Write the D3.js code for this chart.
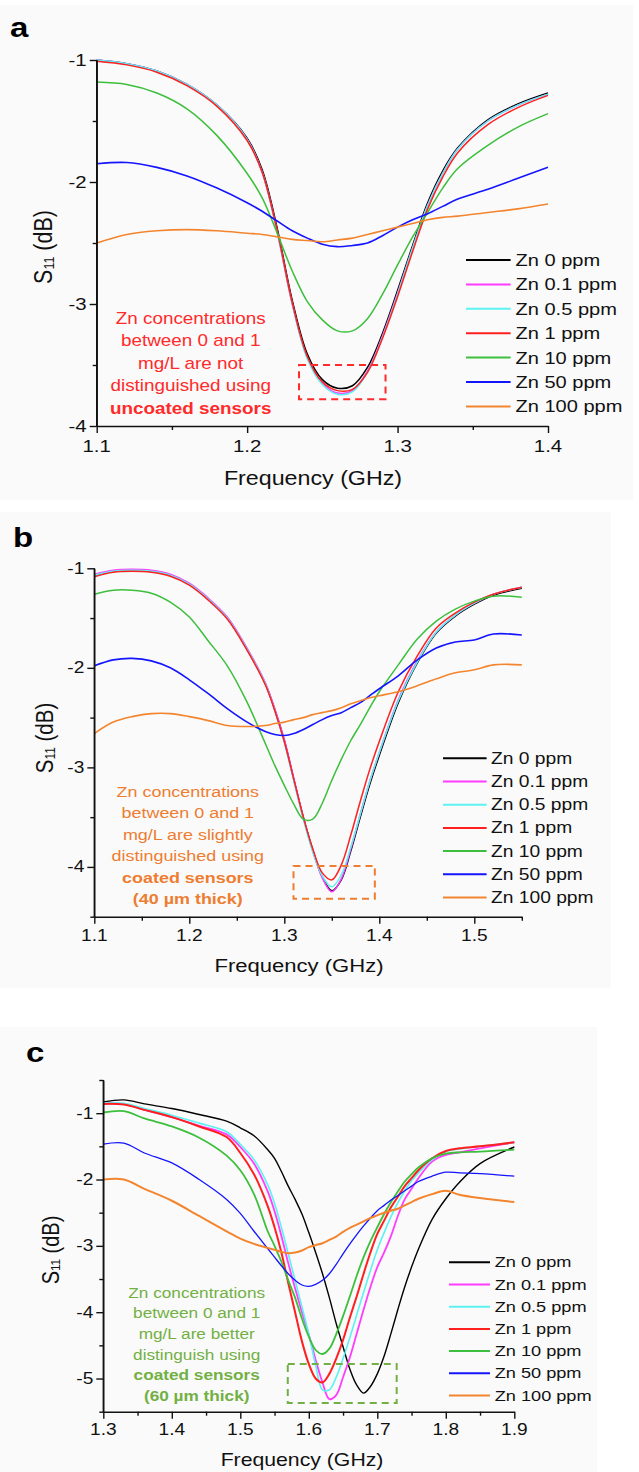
<!DOCTYPE html>
<html><head><meta charset="utf-8">
<script src="https://cdn.jsdelivr.net/npm/d3@7"></script>
<style>body{margin:0;background:#fff}svg{display:block}</style>
</head><body><svg id="fig" width="639" height="1472"></svg>
<script>
// ---------------- DATA ----------------
const seriesLabels = ["Zn 0 ppm","Zn 0.1 ppm","Zn 0.5 ppm","Zn 1 ppm","Zn 10 ppm","Zn 50 ppm","Zn 100 ppm"];
const seriesColors = ["#000000","#ff3cff","#5cf2f2","#ff1f1f","#3cbf3c","#1414ff","#f3852e"];

// Panel a (uncoated)
const freqA  = [1.10,1.12,1.14,1.16,1.18,1.20,1.21,1.22,1.23,1.24,1.25,1.26,1.27,1.28,1.29,1.30,1.31,1.32,1.33,1.34,1.36,1.38,1.40];
const zn0A   = [-1.00,-1.03,-1.09,-1.20,-1.37,-1.64,-1.90,-2.38,-2.97,-3.41,-3.62,-3.69,-3.67,-3.52,-3.24,-2.89,-2.52,-2.17,-1.91,-1.72,-1.49,-1.36,-1.27];
const zn01A  = [-1.00,-1.03,-1.09,-1.20,-1.37,-1.65,-1.92,-2.41,-3.00,-3.44,-3.65,-3.73,-3.71,-3.55,-3.26,-2.91,-2.54,-2.19,-1.93,-1.73,-1.50,-1.37,-1.28];
const zn05A  = [-1.00,-1.03,-1.09,-1.20,-1.37,-1.65,-1.92,-2.41,-3.00,-3.45,-3.66,-3.74,-3.72,-3.56,-3.27,-2.92,-2.54,-2.19,-1.93,-1.73,-1.50,-1.37,-1.28];
const zn1A   = [-1.01,-1.04,-1.10,-1.21,-1.38,-1.66,-1.92,-2.40,-2.99,-3.43,-3.64,-3.71,-3.70,-3.56,-3.28,-2.94,-2.57,-2.22,-1.96,-1.76,-1.53,-1.39,-1.29];
const zn10A  = [-1.18,-1.20,-1.27,-1.40,-1.62,-1.93,-2.13,-2.42,-2.73,-2.98,-3.13,-3.22,-3.22,-3.12,-2.92,-2.68,-2.45,-2.25,-2.05,-1.89,-1.70,-1.55,-1.44];
const zn50A  = [-1.85,-1.84,-1.88,-1.95,-2.05,-2.17,-2.24,-2.32,-2.40,-2.46,-2.51,-2.53,-2.52,-2.50,-2.44,-2.37,-2.31,-2.26,-2.20,-2.14,-2.06,-1.97,-1.88];
const zn100A = [-2.50,-2.43,-2.40,-2.39,-2.40,-2.42,-2.43,-2.45,-2.47,-2.48,-2.49,-2.475,-2.46,-2.43,-2.40,-2.37,-2.34,-2.31,-2.29,-2.28,-2.25,-2.22,-2.18];

// Panel b (coated 40 um)
const freqB  = [1.10,1.12,1.14,1.16,1.18,1.20,1.22,1.24,1.26,1.28,1.29,1.30,1.31,1.32,1.33,1.34,1.35,1.36,1.37,1.38,1.39,1.40,1.42,1.44,1.46,1.48,1.50,1.52,1.55];
const zn0B   = [-1.07,-1.03,-1.02,-1.03,-1.07,-1.16,-1.31,-1.50,-1.80,-2.16,-2.42,-2.73,-3.12,-3.50,-3.83,-4.10,-4.24,-4.13,-3.84,-3.50,-3.17,-2.88,-2.35,-1.95,-1.65,-1.48,-1.36,-1.27,-1.20];
const zn01B  = [-1.06,-1.02,-1.01,-1.02,-1.06,-1.15,-1.30,-1.49,-1.79,-2.15,-2.41,-2.72,-3.11,-3.50,-3.84,-4.11,-4.25,-4.12,-3.82,-3.47,-3.14,-2.85,-2.32,-1.93,-1.64,-1.47,-1.35,-1.26,-1.19];
const zn05B  = [-1.07,-1.03,-1.02,-1.03,-1.07,-1.16,-1.31,-1.50,-1.80,-2.16,-2.43,-2.75,-3.14,-3.52,-3.85,-4.09,-4.20,-4.08,-3.80,-3.47,-3.14,-2.85,-2.33,-1.94,-1.64,-1.47,-1.35,-1.26,-1.19];
const zn1B   = [-1.085,-1.04,-1.03,-1.04,-1.08,-1.17,-1.32,-1.51,-1.81,-2.17,-2.43,-2.74,-3.12,-3.50,-3.82,-4.06,-4.13,-3.98,-3.68,-3.34,-3.02,-2.74,-2.24,-1.88,-1.60,-1.45,-1.34,-1.26,-1.19];
const zn10B  = [-1.26,-1.22,-1.22,-1.25,-1.34,-1.49,-1.73,-1.98,-2.33,-2.76,-2.98,-3.18,-3.37,-3.52,-3.52,-3.36,-3.13,-2.92,-2.73,-2.57,-2.40,-2.24,-1.97,-1.71,-1.53,-1.41,-1.33,-1.28,-1.29];
const zn50B  = [-1.98,-1.92,-1.905,-1.93,-2.00,-2.12,-2.26,-2.41,-2.54,-2.64,-2.67,-2.68,-2.66,-2.62,-2.57,-2.52,-2.48,-2.45,-2.40,-2.35,-2.28,-2.21,-2.08,-1.92,-1.80,-1.74,-1.72,-1.66,-1.67];
const zn100B = [-2.66,-2.545,-2.49,-2.46,-2.46,-2.49,-2.53,-2.58,-2.59,-2.58,-2.56,-2.545,-2.52,-2.50,-2.47,-2.45,-2.43,-2.40,-2.36,-2.33,-2.30,-2.28,-2.24,-2.18,-2.11,-2.05,-2.02,-1.97,-1.97];

// Panel c (coated 60 um)
const freqC  = [1.30,1.33,1.36,1.40,1.44,1.48,1.50,1.52,1.54,1.55,1.56,1.57,1.58,1.59,1.60,1.61,1.62,1.63,1.64,1.65,1.66,1.67,1.68,1.69,1.70,1.71,1.72,1.73,1.74,1.75,1.76,1.78,1.80,1.82,1.85,1.90];
const zn0C   = [-0.83,-0.80,-0.86,-0.93,-1.02,-1.12,-1.22,-1.34,-1.55,-1.68,-1.88,-2.10,-2.30,-2.52,-2.80,-3.10,-3.42,-3.78,-4.17,-4.52,-4.86,-5.10,-5.22,-5.12,-4.93,-4.66,-4.32,-3.96,-3.62,-3.32,-3.05,-2.60,-2.29,-2.04,-1.76,-1.51];
const zn01C  = [-0.86,-0.86,-0.95,-1.06,-1.19,-1.32,-1.51,-1.76,-2.18,-2.48,-2.85,-3.26,-3.64,-4.00,-4.34,-4.72,-5.06,-5.31,-5.25,-4.98,-4.68,-4.32,-3.96,-3.62,-3.32,-3.10,-2.85,-2.55,-2.30,-2.14,-1.98,-1.73,-1.63,-1.59,-1.53,-1.44];
const zn05C  = [-0.85,-0.85,-0.93,-1.03,-1.15,-1.28,-1.47,-1.70,-2.08,-2.36,-2.72,-3.12,-3.52,-3.92,-4.33,-4.80,-5.17,-5.17,-4.98,-4.70,-4.38,-4.04,-3.70,-3.37,-3.06,-2.80,-2.56,-2.35,-2.17,-2.02,-1.90,-1.70,-1.58,-1.54,-1.50,-1.44];
const zn1C   = [-0.86,-0.87,-0.95,-1.06,-1.20,-1.36,-1.60,-1.92,-2.40,-2.72,-3.10,-3.56,-4.00,-4.44,-4.78,-5.00,-5.06,-4.93,-4.70,-4.42,-4.08,-3.76,-3.42,-3.10,-2.82,-2.62,-2.42,-2.26,-2.10,-1.98,-1.86,-1.68,-1.57,-1.53,-1.50,-1.44];
const zn10C  = [-0.99,-0.97,-1.08,-1.20,-1.37,-1.64,-1.86,-2.22,-2.78,-3.00,-3.24,-3.52,-3.78,-4.10,-4.37,-4.57,-4.63,-4.55,-4.33,-4.06,-3.76,-3.45,-3.17,-2.93,-2.72,-2.52,-2.34,-2.18,-2.03,-1.92,-1.82,-1.68,-1.61,-1.59,-1.58,-1.55];
const zn50C  = [-1.465,-1.45,-1.60,-1.75,-2.00,-2.30,-2.51,-2.78,-3.04,-3.17,-3.30,-3.42,-3.52,-3.59,-3.61,-3.58,-3.52,-3.42,-3.28,-3.12,-2.97,-2.83,-2.70,-2.58,-2.47,-2.39,-2.31,-2.24,-2.17,-2.10,-2.03,-1.95,-1.89,-1.90,-1.91,-1.95];
const zn100C = [-2.00,-2.00,-2.14,-2.32,-2.55,-2.78,-2.89,-2.97,-3.03,-3.06,-3.09,-3.11,-3.10,-3.07,-3.02,-2.99,-2.96,-2.91,-2.86,-2.79,-2.73,-2.68,-2.63,-2.58,-2.54,-2.50,-2.47,-2.44,-2.39,-2.34,-2.29,-2.22,-2.17,-2.23,-2.28,-2.34];

// Tick values
const xTicksA = [1.1,1.2,1.3,1.4], xMinorA = [1.15,1.25,1.35];
const yTicksA = [-1,-2,-3,-4],     yMinorA = [-1.5,-2.5,-3.5];
const xTicksB = [1.1,1.2,1.3,1.4,1.5], xMinorB = [1.15,1.25,1.35,1.45,1.55];
const yTicksB = [-1,-2,-3,-4],         yMinorB = [-1.5,-2.5,-3.5,-4.5];
const xTicksC = [1.3,1.4,1.5,1.6,1.7,1.8,1.9], xMinorC = [1.35,1.45,1.55,1.65,1.75,1.85];
const yTicksC = [-1,-2,-3,-4,-5],             yMinorC = [-0.5,-1.5,-2.5,-3.5,-4.5,-5.5];

// Annotation texts
const noteA = ["Zn concentrations","between 0 and 1","mg/L are not","distinguished using","uncoated sensors"];
const noteB = ["Zn concentrations","between 0 and 1","mg/L are slightly","distinguished using","coated sensors","(40 µm thick)"];
const noteC = ["Zn concentrations","between 0 and 1","mg/L are better","distinguish using","coated sensors","(60 µm thick)"];

// ---------------- LAYOUT ----------------
const SX = 1.18;
const FONT = "'Liberation Sans', Arial, Helvetica, sans-serif";
const svg = d3.select("#fig");

function txt(g, x, y, s, size, o = {}) {
  return g.append("text")
    .attr("transform", `translate(${x},${y}) scale(${SX},1)`)
    .attr("font-family", FONT).attr("font-size", size)
    .attr("font-weight", o.bold ? "bold" : "normal")
    .attr("fill", o.color || "#111")
    .attr("text-anchor", o.anchor || "start")
    .attr("dominant-baseline", o.baseline || "central")
    .text(s);
}

const panels = [
  { bg: [0, 5, 633, 495], letter: "a", letterPos: [10, 37],
    freq: freqA, series: [zn0A, zn01A, zn05A, zn1A, zn10A, zn50A, zn100A],
    xDom: [1.1, 1.4], xR: [96.7, 548], yDom: [-4, -1], yR: [426, 60],
    xT: xTicksA, xM: xMinorA, yT: yTicksA, yM: yMinorA,
    tickFs: 17.3, xLabY: 446, xTitle: [313, 479], titleFs: 19.7, yTitleFs: 21.5, yTitle: [43, 247],
    legend: { x1: 466, x2: 510.6, tx: 515.5, y0: 260, dy: 24.4, fs: 17 },
    widths: [1.5,1.5,1.5,1.5,1.5,1.6,1.6],
    note: noteA, noteBold: 4, noteColor: "#ff2a2a", noteX: 190.7, noteY0: 318.3, noteDy: 22.5, noteFs: 16,
    box: { f0: 1.2345, f1: 1.292, v0: -3.5, v1: -3.78, color: "#ff2a2a" } },
  { bg: [0, 512, 611, 476], letter: "b", letterPos: [13, 547],
    freq: freqB, series: [zn0B, zn01B, zn05B, zn1B, zn10B, zn50B, zn100B],
    xDom: [1.1, 1.55], xR: [94.3, 521.8], yDom: [-4.5, -1], yR: [916.7, 568.3],
    xT: xTicksB, xM: xMinorB, yT: yTicksB, yM: yMinorB,
    tickFs: 16.2, xLabY: 936, xTitle: [299, 965], titleFs: 18.7, yTitleFs: 20.5, yTitle: [44, 738],
    legend: { x1: 443, x2: 486.6, tx: 491, y0: 758.3, dy: 23.2, fs: 16.3 },
    widths: [1.5,1.5,1.5,1.5,1.5,1.6,1.6],
    note: noteB, noteBold: 4, noteColor: "#ee7d31", noteX: 187.8, noteY0: 791.7, noteDy: 21.5, noteFs: 15.2,
    box: { f0: 1.3097, f1: 1.3953, v0: -3.99, v1: -4.32, color: "#ee7d31" } },
  { bg: [0, 1027, 597, 445], letter: "c", letterPos: [26, 1062],
    freq: freqC, series: [zn0C, zn01C, zn05C, zn1C, zn10C, zn50C, zn100C],
    xDom: [1.3, 1.9], xR: [103.3, 514.3], yDom: [-5.5, -0.5], yR: [1411.7, 1080],
    xT: xTicksC, xM: xMinorC, yT: yTicksC, yM: yMinorC,
    tickFs: 16.2, xLabY: 1430, xTitle: [302, 1460], titleFs: 18, yTitleFs: 20, yTitle: [50, 1250],
    legend: { x1: 449, x2: 490, tx: 494.7, y0: 1262.3, dy: 22.2, fs: 15.4 },
    widths: [1.4,1.8,1.6,2.0,1.8,1.3,2.0],
    note: noteC, noteBold: 4, noteColor: "#72b043", noteX: 196.7, noteY0: 1292.7, noteDy: 20.6, noteFs: 14.6,
    box: { f0: 1.5693, f1: 1.7283, v0: -4.78, v1: -5.37, color: "#72b043" } }
];

panels.forEach(p => {
  const g = svg.append("g");
  g.append("rect").attr("x", p.bg[0]).attr("y", p.bg[1]).attr("width", p.bg[2]).attr("height", p.bg[3]).attr("fill", "#fafafa");

  const x = d3.scaleLinear().domain(p.xDom).range(p.xR);
  const y = d3.scaleLinear().domain(p.yDom).range(p.yR);

  // curves
  const line = d3.line().curve(d3.curveCatmullRom.alpha(0.5)).x(d => x(d[0])).y(d => y(d[1]));
  p.series.forEach((vals, i) => {
    const pts = p.freq.map((f, j) => [f, vals[j]]);
    g.append("path").attr("d", line(pts)).attr("fill", "none")
      .attr("stroke", seriesColors[i]).attr("stroke-width", p.widths[i])
      .attr("stroke-linejoin", "round");
  });

  // axes
  const y0 = p.yR[0], x0 = p.xR[0];
  const style = a => { a.selectAll("path,line").attr("stroke", "#111").attr("stroke-width", 1.4); };
  g.append("g").attr("transform", `translate(0,${y0})`)
    .call(d3.axisBottom(x).tickValues(p.xT).tickSize(7).tickSizeOuter(0).tickFormat("")).call(style);
  g.append("g").attr("transform", `translate(0,${y0})`)
    .call(d3.axisBottom(x).tickValues(p.xM).tickSize(4).tickSizeOuter(0).tickFormat("")).call(style)
    .select(".domain").remove();
  g.append("g").attr("transform", `translate(${x0},0)`)
    .call(d3.axisLeft(y).tickValues(p.yT).tickSize(7).tickSizeOuter(0).tickFormat("")).call(style);
  g.append("g").attr("transform", `translate(${x0},0)`)
    .call(d3.axisLeft(y).tickValues(p.yM).tickSize(4).tickSizeOuter(0).tickFormat("")).call(style)
    .select(".domain").remove();
  g.append("line").attr("x1", x0).attr("x2", x0).attr("y1", p.yR[1]).attr("y2", y0 + 0.7)
    .attr("stroke", "#111").attr("stroke-width", 1.4);

  // tick labels
  p.xT.forEach(v => txt(g, x(v), p.xLabY, String(v), p.tickFs, { anchor: "middle" }));
  p.yT.forEach(v => txt(g, x0 - 10, y(v), String(v), p.tickFs, { anchor: "end" }));

  // axis titles
  txt(g, p.xTitle[0], p.xTitle[1], "Frequency (GHz)", p.titleFs, { anchor: "middle" });
  const yt = g.append("text")
    .attr("transform", `translate(${p.yTitle[0]},${p.yTitle[1]}) rotate(-90) scale(1,${SX})`)
    .attr("font-family", FONT).attr("font-size", p.yTitleFs).attr("fill", "#111")
    .attr("text-anchor", "middle").attr("dominant-baseline", "central");
  yt.append("tspan").text("S");
  yt.append("tspan").attr("font-size", p.yTitleFs * 0.58).attr("dy", 5).text("11");
  yt.append("tspan").attr("dy", -5).text(" (dB)");

  // panel letter
  txt(g, p.letterPos[0], p.letterPos[1], p.letter, 28, { bold: true, baseline: "alphabetic", color: "#000" });

  // legend
  const L = p.legend;
  seriesLabels.forEach((lab, i) => {
    const yy = L.y0 + i * L.dy;
    g.append("line").attr("x1", L.x1).attr("x2", L.x2).attr("y1", yy).attr("y2", yy)
      .attr("stroke", seriesColors[i]).attr("stroke-width", 2);
    txt(g, L.tx, yy, lab, L.fs);
  });

  // annotation
  p.note.forEach((s, i) => {
    txt(g, p.noteX, p.noteY0 + i * p.noteDy, s, p.noteFs,
      { anchor: "middle", color: p.noteColor, bold: i >= p.noteBold });
  });
  const b = p.box;
  g.append("rect").attr("x", x(b.f0)).attr("y", y(b.v0))
    .attr("width", x(b.f1) - x(b.f0)).attr("height", y(b.v1) - y(b.v0))
    .attr("fill", "none").attr("stroke", b.color).attr("stroke-width", 2)
    .attr("stroke-dasharray", "7,5");
});
</script>
</body></html>
